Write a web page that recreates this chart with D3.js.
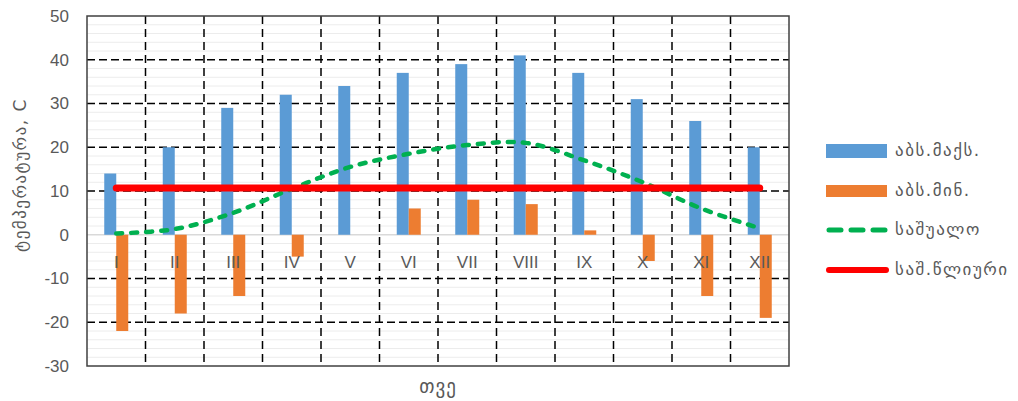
<!DOCTYPE html>
<html>
<head>
<meta charset="utf-8">
<script src="https://cdn.jsdelivr.net/npm/d3@7"></script>
<style>
  body { margin: 0; background: #fff; }
  text { font-family: "Liberation Sans", "DejaVu Sans", sans-serif; fill: #595959; }
  .geo { font-family: "DejaVu Sans", sans-serif; }
</style>
</head>
<body>
<svg id="chart" width="1018" height="401"></svg>
<script>
const months = ["I","II","III","IV","V","VI","VII","VIII","IX","X","XI","XII"];
const absMax = [14, 20, 29, 32, 34, 37, 39, 41, 37, 31, 26, 20];
const absMin = [-22, -18, -14, -5, 0, 6, 8, 7, 1, -6, -14, -19];
const avg = [0.3, 1.3, 5, 10.5, 15.5, 18.5, 20.5, 21, 17, 12, 6, 1.5];
const annual = [10.7, 10.7, 10.7, 10.7, 10.7, 10.7, 10.7, 10.7, 10.7, 10.7, 10.7, 10.7];
const yTicks = [50, 40, 30, 20, 10, 0, -10, -20, -30];
const seriesNames = ["აბს.მაქს.", "აბს.მინ.", "საშუალო", "საშ.წლიური"];
const yTitle = "ტემპერატურა, C";
const xTitle = "თვე";

const svg = d3.select("#chart");
const L = 87, R = 789, T = 16, B = 366;

const x0 = d3.scaleBand().domain(months).range([L, R]).padding(0);
const bw = x0.bandwidth();
const x1 = d3.scaleBand().domain(["max", "min"]).range([bw / 2 - 12, bw / 2 + 12]).padding(0);
const y = d3.scaleLinear().domain([-30, 50]).range([B, T]);

// minor gridlines
const minor = d3.range(-28, 50, 2).filter(v => v % 10 !== 0);
svg.append("g").selectAll("line").data(minor).join("line")
  .attr("x1", L).attr("x2", R).attr("y1", d => y(d)).attr("y2", d => y(d))
  .attr("stroke", "#ececec").attr("stroke-width", 1);

// major horizontal dashed gridlines
svg.append("g").selectAll("line").data(yTicks.filter(v => v !== 0 && v !== 50 && v !== -30)).join("line")
  .attr("x1", L).attr("x2", R).attr("y1", d => y(d)).attr("y2", d => y(d))
  .attr("stroke", "#000").attr("stroke-width", 1.5).attr("stroke-dasharray", "8,4");

// vertical dashed gridlines
svg.append("g").selectAll("line").data(months.slice(1)).join("line")
  .attr("x1", d => x0(d)).attr("x2", d => x0(d)).attr("y1", T).attr("y2", B)
  .attr("stroke", "#000").attr("stroke-width", 1.5).attr("stroke-dasharray", "8,5");

// zero line
svg.append("line").attr("x1", L).attr("x2", R).attr("y1", y(0)).attr("y2", y(0))
  .attr("stroke", "#d9d9d9").attr("stroke-width", 1.5);

// border
svg.append("rect").attr("x", L).attr("y", T).attr("width", R - L).attr("height", B - T)
  .attr("fill", "none").attr("stroke", "#404040").attr("stroke-width", 1.5);

// y axis labels
const yAxis = d3.axisLeft(y).tickValues(yTicks).tickFormat(d => String(d)).tickSize(0).tickPadding(18);
const gy = svg.append("g").attr("transform", `translate(${L},0)`).call(yAxis);
gy.select(".domain").remove();
gy.selectAll("text").style("font-size", "17px").attr("fill", "#595959")
  .style("font-family", "Liberation Sans, DejaVu Sans, sans-serif");

// bars
svg.append("g").selectAll("rect").data(months).join("rect")
  .attr("x", d => x0(d) + x1("max"))
  .attr("width", x1.bandwidth())
  .attr("y", (d, i) => y(Math.max(0, absMax[i])))
  .attr("height", (d, i) => Math.abs(y(absMax[i]) - y(0)))
  .attr("fill", "#5b9bd5");
svg.append("g").selectAll("rect").data(months).join("rect")
  .attr("x", d => x0(d) + x1("min"))
  .attr("width", x1.bandwidth())
  .attr("y", (d, i) => y(Math.max(0, absMin[i])))
  .attr("height", (d, i) => Math.abs(y(absMin[i]) - y(0)))
  .attr("fill", "#ed7d31");

// month labels
svg.append("g").selectAll("text").data(months).join("text")
  .attr("x", d => x0(d) + bw / 2).attr("y", y(0) + 33)
  .attr("text-anchor", "middle").style("font-size", "17px").text(d => d);

// average line
const line = d3.line()
  .x((d, i) => x0(months[i]) + bw / 2)
  .y(d => y(d))
  .curve(d3.curveCatmullRom.alpha(0.5));
svg.append("path").datum(avg).attr("d", line)
  .attr("fill", "none").attr("stroke", "#00b050").attr("stroke-width", 4.5)
  .attr("stroke-linecap", "round").attr("stroke-dasharray", "6,9");

// annual line
svg.append("path").datum(annual).attr("d", d3.line().x((d, i) => x0(months[i]) + bw / 2).y(d => y(d)))
  .attr("fill", "none").attr("stroke", "#ff0000").attr("stroke-width", 7)
  .attr("stroke-linecap", "round");

// titles
svg.append("text").attr("class", "geo")
  .attr("transform", "translate(21,175) rotate(-90)")
  .attr("text-anchor", "middle").attr("dominant-baseline", "middle")
  .style("font-size", "17px").style("letter-spacing", "1.5px").text(yTitle);
svg.append("text").attr("class", "geo")
  .attr("x", 438).attr("y", 387).attr("text-anchor", "middle").attr("dominant-baseline", "middle")
  .style("font-size", "19px").style("letter-spacing", "1px").text(xTitle);

// legend
const lg = svg.append("g");
const ly = [151, 191, 230, 270];
lg.append("rect").attr("x", 826).attr("y", ly[0] - 7).attr("width", 61).attr("height", 14).attr("fill", "#5b9bd5");
lg.append("rect").attr("x", 826).attr("y", ly[1] - 6).attr("width", 61).attr("height", 12).attr("fill", "#ed7d31");
lg.append("line").attr("x1", 829).attr("x2", 885).attr("y1", ly[2]).attr("y2", ly[2])
  .attr("stroke", "#00b050").attr("stroke-width", 5).attr("stroke-linecap", "round").attr("stroke-dasharray", "12,10");
lg.append("line").attr("x1", 829).attr("x2", 886).attr("y1", ly[3]).attr("y2", ly[3])
  .attr("stroke", "#ff0000").attr("stroke-width", 6).attr("stroke-linecap", "round");
lg.selectAll("text.lt").data(seriesNames).join("text").attr("class", "geo lt")
  .attr("x", 895).attr("y", (d, i) => ly[i]).attr("dominant-baseline", "middle")
  .style("font-size", "17px").style("letter-spacing", "1.5px").text(d => d);
</script>
</body>
</html>
